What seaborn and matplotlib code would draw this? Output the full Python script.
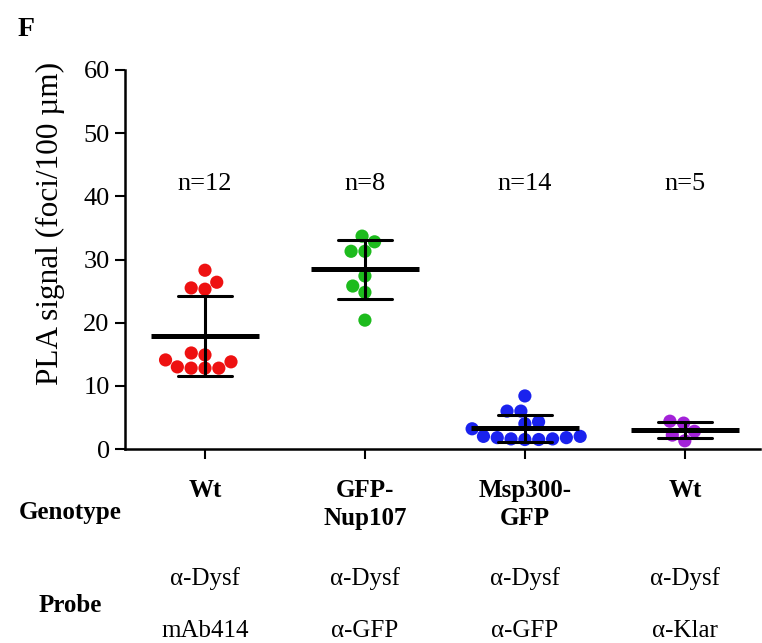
import numpy as np
import pandas as pd
import matplotlib
matplotlib.use("Agg")
import matplotlib.pyplot as plt
import matplotlib.transforms as mtransforms
import seaborn as sns

# ---- data ----
categories = ["Wt", "GFP-Nup107", "Msp300-GFP", "Wt (Klar)"]
wt_values = [28.3, 25.5, 25.3, 26.4, 13.8, 14.9, 13.0, 12.8, 14.1, 12.8, 15.2, 12.8]
nup_values = [32.8, 31.3, 31.3, 33.7, 27.4, 25.8, 24.8, 20.4]
msp_values = [8.4, 6.0, 6.0, 4.3, 2.0, 4.0, 3.2, 1.8, 1.6, 1.5, 1.8, 1.6, 1.5, 2.0]
klar_values = [4.4, 2.8, 1.3, 2.2, 4.1]
colors = ["#ee1111", "#1dbb1d", "#1a22ee", "#a322d8"]
n_labels = ["n=12", "n=8", "n=14", "n=5"]
genotype_labels = ["Wt", "GFP-\nNup107", "Msp300-\nGFP", "Wt"]
probe_row1 = ["α-Dysf", "α-Dysf", "α-Dysf", "α-Dysf"]
probe_row2 = ["mAb414", "α-GFP", "α-GFP", "α-Klar"]
y_ticks = [0, 10, 20, 30, 40, 50, 60]

all_vals = [wt_values, nup_values, msp_values, klar_values]
df = pd.DataFrame({
    "group": np.concatenate([[c] * len(v) for c, v in zip(categories, all_vals)]),
    "value": np.concatenate(all_vals),
})

sns.set_theme(style="ticks")
plt.rcParams["font.family"] = ["Liberation Serif", "DejaVu Serif"]
plt.rcParams.update({"text.color": "black", "axes.labelcolor": "black",
                     "xtick.color": "black", "ytick.color": "black",
                     "axes.edgecolor": "black"})

W, H = 762, 643
fig = plt.figure(figsize=(W / 100, H / 100), dpi=100)
ax = fig.add_axes([125 / W, 1 - 449 / H, (760 - 125) / W, (449 - 70) / H])

sns.swarmplot(data=df, x="group", y="value", hue="group", order=categories,
              hue_order=categories, palette=colors, size=9.5, legend=False,
              linewidth=0, ax=ax, zorder=2)
sns.pointplot(data=df, x="group", y="value", order=categories,
              errorbar="sd", capsize=0.34, color="black", marker="_",
              markersize=78, markeredgewidth=3.6, linestyle="none",
              err_kws={"linewidth": 2.2}, ax=ax, zorder=5)

ax.set_ylim(0, 60)
ax.set_xlim(-0.5, 3.47)
ax.set_yticks(y_ticks)
ax.set_yticklabels([str(t) for t in y_ticks], fontsize=19)
ax.set_xticks(range(len(categories)))
ax.set_xticklabels([])
ax.set_xlabel("")
ax.set_ylabel("PLA signal (foci/100 µm)", fontsize=22.5)
ax.yaxis.set_label_coords(-0.095, (449 - 223) / (449 - 70))
for side in ["top", "right"]:
    ax.spines[side].set_visible(False)
for side in ["left", "bottom"]:
    ax.spines[side].set_linewidth(1.8)
ax.tick_params(axis="both", direction="out", length=7, width=1.5, color="black")
ax.tick_params(axis="y", pad=4)

trans = mtransforms.blended_transform_factory(ax.transData, fig.transFigure)
fy = lambda py: 1 - py / H

for i in range(len(categories)):
    ax.text(i, 42, n_labels[i], ha="center", va="center", fontsize=19)
    fig.text(i, fy(479), genotype_labels[i], transform=trans,
             ha="center", va="top", fontsize=18, fontweight="bold",
             linespacing=1.3)
    fig.text(i, fy(579), probe_row1[i], transform=trans,
             ha="center", va="center", fontsize=18)
    fig.text(i, fy(631), probe_row2[i], transform=trans,
             ha="center", va="center", fontsize=18)

fig.text(70 / W, fy(512), "Genotype", ha="center", va="center",
         fontsize=18, fontweight="bold")
fig.text(70 / W, fy(605), "Probe", ha="center", va="center",
         fontsize=18, fontweight="bold")
fig.text(26 / W, fy(30), "F", ha="center", va="center", fontsize=20,
         fontweight="bold")

fig.savefig("out.png", dpi=100, facecolor="white")
